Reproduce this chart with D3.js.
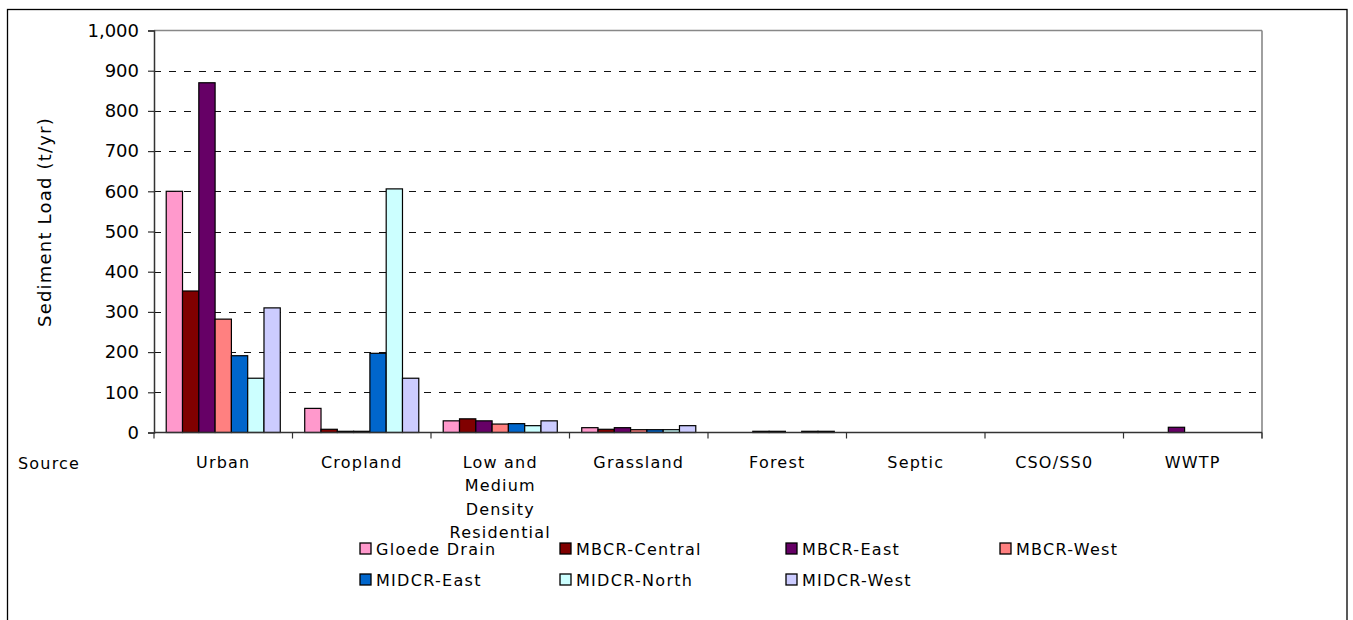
<!DOCTYPE html>
<html><head><meta charset="utf-8">
<script src="https://cdn.jsdelivr.net/npm/d3@7"></script>
<style>body{margin:0;background:#fff;}svg text{font-family:"DejaVu Sans",Verdana,sans-serif;fill:#000;}</style>
</head><body>
<svg id="c" width="1353" height="620"></svg>
<script>
const categories = ["Urban","Cropland","Low and\nMedium\nDensity\nResidential","Grassland","Forest","Septic","CSO/SS0","WWTP"];
const seriesNames = ["Gloede Drain","MBCR-Central","MBCR-East","MBCR-West","MIDCR-East","MIDCR-North","MIDCR-West"];
const gloedeDrain = [600, 60, 29, 12, 0, 0, 0, 0];
const mbcrCentral = [352, 8, 34, 8, 0, 0, 0, 0];
const mbcrEast    = [870, 3, 29, 12, 3, 0, 0, 13];
const mbcrWest    = [282, 3, 21, 7, 3, 0, 0, 0];
const midcrEast   = [191, 197, 22, 7, 0, 0, 0, 0];
const midcrNorth  = [135, 606, 17, 7, 3, 0, 0, 0];
const midcrWest   = [310, 135, 29, 17, 3, 0, 0, 0];
const seriesValues = [gloedeDrain, mbcrCentral, mbcrEast, mbcrWest, midcrEast, midcrNorth, midcrWest];
const colors = ["#FF99CC","#800000","#660066","#FF8080","#0066CC","#CCFFFF","#CCCCFF"];
const yTicks = [0,100,200,300,400,500,600,700,800,900,1000];
const yTitle = "Sediment Load (t/yr)";
const xTitle = "Source";

const svg = d3.select("#c");
const L = 154, R = 1262, T = 30.5, B = 432.5;

// outer frame
svg.append("rect").attr("x",7.5).attr("y",9.5).attr("width",1339.5).attr("height",640)
  .attr("fill","none").attr("stroke","#000").attr("stroke-width",1.3);

const x = d3.scaleBand().domain(categories).range([L,R]).padding(0);
const xs = d3.scaleBand().domain(seriesNames).range([0,x.bandwidth()]).paddingInner(0).paddingOuter(0.75);
const y = d3.scaleLinear().domain([0,1000]).range([B,T]);

// gridlines
svg.append("g").selectAll("line").data(yTicks.filter(d=>d>0&&d<1000)).join("line")
  .attr("x1",L).attr("x2",R).attr("y1",d=>Math.round(y(d))+0.5).attr("y2",d=>Math.round(y(d))+0.5)
  .attr("stroke","#111").attr("stroke-width",1).attr("stroke-dasharray","7,8");
// top and right frame
svg.append("line").attr("x1",L).attr("x2",R).attr("y1",T).attr("y2",T).attr("stroke","#888").attr("stroke-width",1.6);
svg.append("line").attr("x1",R).attr("x2",R).attr("y1",T).attr("y2",B+6).attr("stroke","#888").attr("stroke-width",1.6);

// bars
const g = svg.append("g");
seriesNames.forEach((s,si)=>{
  g.append("g").selectAll("rect").data(categories.map((c,ci)=>({c, v:seriesValues[si][ci]})).filter(d=>d.v>0)).join("rect")
    .attr("x",d=>x(d.c)+xs(s)).attr("width",xs.bandwidth())
    .attr("y",d=>y(d.v)).attr("height",d=>B-y(d.v))
    .attr("fill",colors[si]).attr("stroke","#000").attr("stroke-width",1.2);
});

// y axis
const yAxis = d3.axisLeft(y).tickValues(yTicks).tickFormat(d3.format(",")).tickSize(6).tickPadding(9);
const ya = svg.append("g").attr("transform",`translate(${L},0)`).call(yAxis);
ya.select(".domain").attr("stroke","#333").attr("stroke-width",1.5);
ya.selectAll(".tick line").attr("stroke","#333").attr("stroke-width",1.2);
ya.selectAll(".tick text").attr("font-size",18).attr("font-family","DejaVu Sans").attr("fill","#000");

// x axis
const xa = svg.append("g").attr("transform",`translate(0,${B})`);
xa.append("line").attr("x1",L).attr("x2",R).attr("y1",0).attr("y2",0).attr("stroke","#333").attr("stroke-width",1.5);
xa.selectAll("line.tk").data(d3.range(categories.length+1)).join("line").attr("class","tk")
  .attr("x1",i=>L+i*x.step()).attr("x2",i=>L+i*x.step()).attr("y1",0).attr("y2",6)
  .attr("stroke","#333").attr("stroke-width",1.2);
const cl = svg.append("g").selectAll("text").data(categories).join("text")
  .attr("text-anchor","middle").attr("font-size",16).attr("letter-spacing",1.2)
  .attr("transform",d=>`translate(${x(d)+x.bandwidth()/2},468)`);
cl.each(function(d){
  const t=d3.select(this);
  d.split("\n").forEach((ln,i)=>t.append("tspan").attr("x",0).attr("y",i*23.3).text(ln));
});
svg.append("text").attr("x",18).attr("y",469).attr("font-size",16).attr("letter-spacing",1.2).text(xTitle);

// y title
svg.append("text").attr("transform","translate(51,222) rotate(-90)").attr("text-anchor","middle")
  .attr("font-size",18).attr("letter-spacing",1.2).text(yTitle);

// legend
const legX = [360, 560, 786, 1000];
const legRowY = [549, 580];
const lg = svg.append("g");
seriesNames.forEach((s,i)=>{
  const cx = legX[i%4], cy = legRowY[Math.floor(i/4)];
  lg.append("rect").attr("x",cx).attr("y",cy-6).attr("width",11).attr("height",11)
    .attr("fill",colors[i]).attr("stroke","#000").attr("stroke-width",1.3);
  lg.append("text").attr("x",cx+16).attr("y",cy+6).attr("font-size",16).attr("letter-spacing",1.3).text(s);
});
</script>
</body></html>
